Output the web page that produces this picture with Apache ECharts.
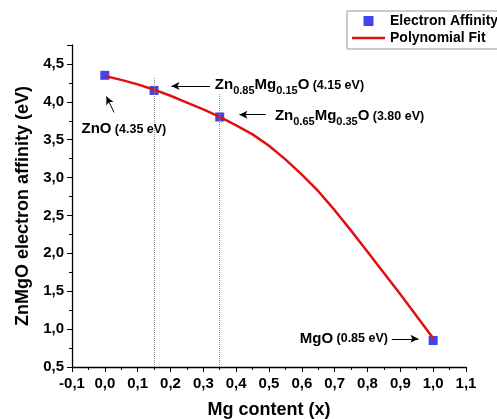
<!DOCTYPE html>
<html>
<head>
<meta charset="utf-8">
<script src="https://cdn.jsdelivr.net/npm/echarts@6/dist/echarts.min.js"></script>
<style>
  html, body { margin: 0; padding: 0; background: #fff; }
  #chart { width: 497px; height: 419px; }
</style>
</head>
<body>
<div id="chart"></div>
<script>
// measured points
const affinityX = [0, 0.15, 0.35, 1.0]
const affinityY = [4.35, 4.15, 3.80, 0.85]

// polynomial fit
const fitX = [0, 0.05, 0.1, 0.15, 0.2, 0.25, 0.3, 0.35, 0.4, 0.45, 0.5,
  0.55, 0.6, 0.65, 0.7, 0.75, 0.8, 0.85, 0.9, 0.95, 1.0]
const fitY = [4.34, 4.29, 4.23, 4.16, 4.08, 3.99, 3.90, 3.80, 3.69, 3.57, 3.42,
  3.24, 3.04, 2.82, 2.57, 2.30, 2.02, 1.74, 1.46, 1.17, 0.88]

const guideX = [0.15, 0.35]
const guideTop = [4.33, 4.10]

const FONT = '"Liberation Sans", Arial, sans-serif'
const fmt = (v) => v.toFixed(1).replace('.', ',')

// annotation text + arrows (data coords)
const notes = [
  { at: [-0.071, 3.64], text: '{b|ZnO} {m|(4.35 eV)}', arrow: [[0.028, 3.86], [0.005, 4.07]] },
  { at: [0.335, 4.22], text: '{b|Zn}{s|0.85}{b|Mg}{s|0.15}{b|O} {m|(4.15 eV)}', arrow: [[0.32, 4.21], [0.203, 4.21]] },
  { at: [0.518, 3.81], text: '{b|Zn}{s|0.65}{b|Mg}{s|0.35}{b|O} {m|(3.80 eV)}', arrow: [[0.49, 3.83], [0.41, 3.83]] },
  { at: [0.594, 0.872], text: '{b|MgO} {m|(0.85 eV)}', arrow: [[0.874, 0.872], [0.955, 0.872]] }
]

const rich = {
  b: { fontFamily: FONT, fontWeight: 'bold', fontSize: 15, color: '#000', lineHeight: 22, verticalAlign: 'middle' },
  s: { fontFamily: FONT, fontWeight: 'bold', fontSize: 11, color: '#000', lineHeight: 11, verticalAlign: 'bottom' },
  m: { fontFamily: FONT, fontWeight: 'bold', fontSize: 12.5, color: '#000', lineHeight: 22, verticalAlign: 'middle' }
}

const chart = echarts.init(document.getElementById('chart'))

const axisCommon = {
  axisLine: { show: true, onZero: false, lineStyle: { color: '#000', width: 1.3 } },
  axisTick: { show: true, inside: false, length: 5, lineStyle: { color: '#000', width: 1 } },
  minorTick: { show: true, splitNumber: 2, length: 3, lineStyle: { color: '#000', width: 1 } },
  splitLine: { show: false },
  minorSplitLine: { show: false },
  nameLocation: 'middle',
  nameTextStyle: { fontFamily: FONT, fontWeight: 'bold', fontSize: 18, color: '#000' }
}

const option = {
  animation: false,
  backgroundColor: '#fff',
  grid: { left: 72, right: 31, top: 45, bottom: 52, containLabel: false, outerBoundsMode: 'none' },
  legend: {
    left: 347,
    top: 11,
    orient: 'vertical',
    itemWidth: 33,
    itemHeight: 10,
    itemGap: 3,
    padding: [3, 8, 4, 5],
    borderColor: '#999',
    borderWidth: 1,
    backgroundColor: '#fff',
    symbolKeepAspect: true,
    textStyle: { fontFamily: FONT, fontWeight: 'bold', fontSize: 14, color: '#000' },
    data: [
      { name: 'Electron Affinity', icon: 'path://M0,0L9,0L9,9L0,9Z' },
      { name: 'Polynomial Fit', icon: 'path://M0,0L33,0L33,2.5L0,2.5Z' }
    ]
  },
  xAxis: Object.assign({}, axisCommon, {
    type: 'value',
    min: -0.1,
    max: 1.1,
    interval: 0.1,
    name: 'Mg content (x)',
    nameGap: 34,
    axisLabel: { margin: 9, fontFamily: FONT, fontWeight: 'bold', fontSize: 15, color: '#000', formatter: fmt }
  }),
  yAxis: Object.assign({}, axisCommon, {
    type: 'value',
    min: 0.5,
    max: 4.75,
    interval: 0.5,
    name: 'ZnMgO electron affinity (eV)',
    nameGap: 40,
    axisLabel: {
      margin: 8, fontFamily: FONT, fontWeight: 'bold', fontSize: 15, color: '#000',
      formatter: (v) => (Math.abs(v * 2 - Math.round(v * 2)) < 1e-6 ? fmt(v) : '')
    }
  }),
  series: [
    {
      name: 'Electron Affinity',
      type: 'scatter',
      symbol: 'rect',
      symbolSize: 9,
      itemStyle: { color: '#1414e8' },
      data: affinityX.map((x, i) => [x, affinityY[i]]),
      z: 3,
      markLine: {
        silent: true,
        animation: false,
        label: { show: false },
        emphasis: { disabled: true },
        data: guideX.map((x, i) => [
          { coord: [x, 0.5], symbol: 'none', lineStyle: { color: '#888', type: 'dotted', width: 1 } },
          { coord: [x, guideTop[i]], symbol: 'none' }
        ]).concat(notes.map((n) => [
          { coord: n.arrow[0], symbol: 'none', lineStyle: { color: '#000', type: 'solid', width: 1 } },
          { coord: n.arrow[1], symbol: 'arrow', symbolSize: [6, 8] }
        ]))
      },
      markPoint: {
        silent: true,
        symbol: 'circle',
        symbolSize: 0,
        data: notes.map((n) => ({
          coord: n.at,
          label: { show: true, position: 'right', distance: 0, formatter: n.text, rich }
        }))
      }
    },
    {
      name: 'Polynomial Fit',
      type: 'line',
      smooth: false,
      symbol: 'none',
      showSymbol: false,
      lineStyle: { color: '#e01010', width: 2.5, join: 'round' },
      itemStyle: { color: '#e01010' },
      data: fitX.map((x, i) => [x, fitY[i]]),
      z: 4
    }
  ]
}

chart.setOption(option)
</script>
</body>
</html>
